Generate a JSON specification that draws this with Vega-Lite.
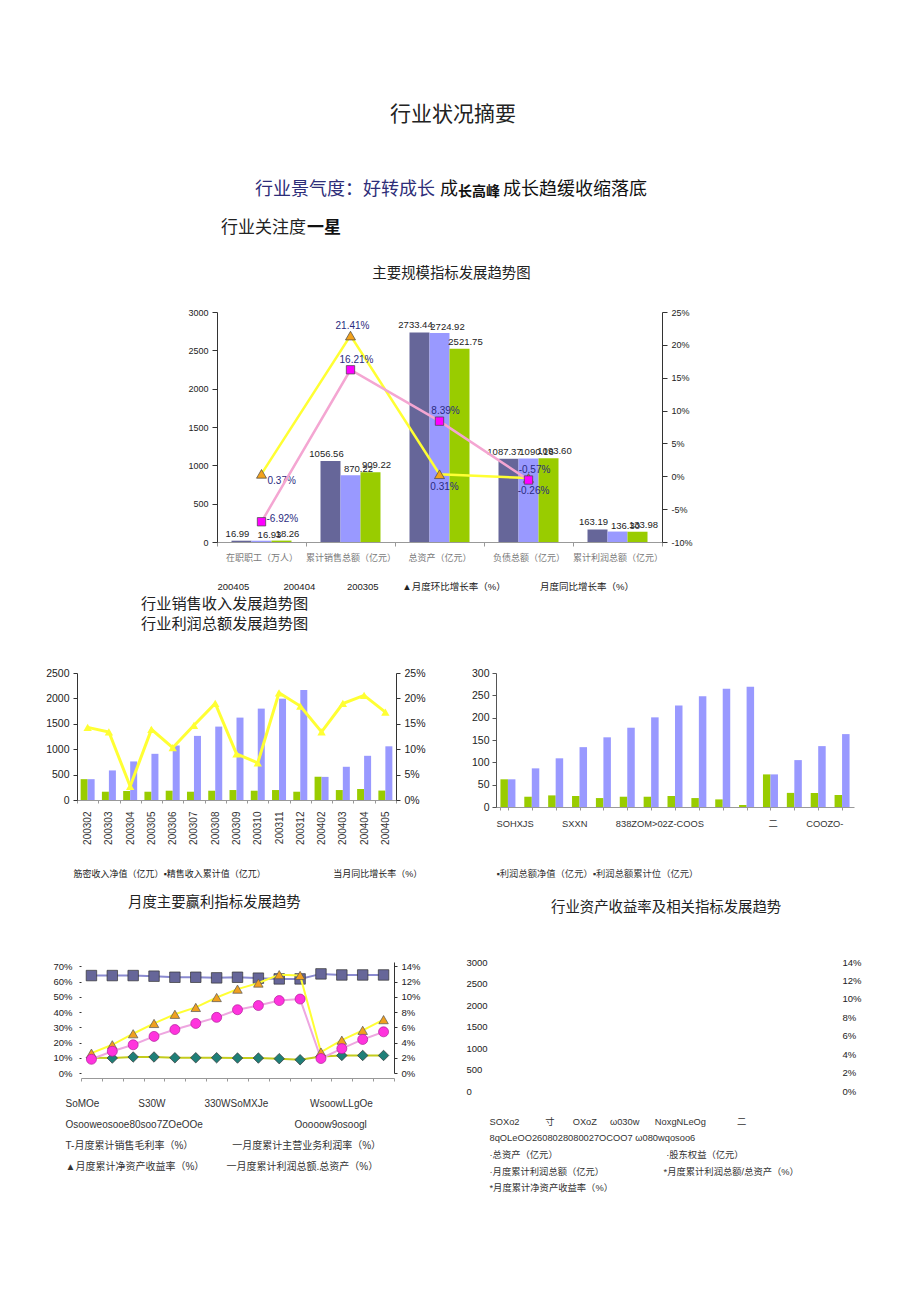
{
  "$schema": "https://vega.github.io/schema/vega-lite/v6.json",
  "background": "white",
  "padding": {"left": 0, "top": 104, "right": 0, "bottom": 0},
  "config": {
    "view": {"stroke": null},
    "font": "Noto Sans CJK SC",
    "axis": {"grid": false, "labelFont": "Liberation Sans", "labelColor": "#222", "domainColor": "#333", "tickColor": "#333"},
    "title": {"font": "Noto Sans CJK SC", "fontWeight": "normal", "color": "#222"},
    "locale": {"number": {"decimal": ".", "thousands": ",", "grouping": [3], "currency": ["", ""], "minus": "-"}}
  },
  "datasets": {
    "c1b": [
      {"cat": "在职职工（万人）", "200405": 16.99, "200404": 16.93, "200305": 18.26},
      {"cat": "累计销售总额（亿元）", "200405": 1056.56, "200404": 870.22, "200305": 909.22},
      {"cat": "总资产（亿元）", "200405": 2733.44, "200404": 2724.92, "200305": 2521.75},
      {"cat": "负债总额（亿元）", "200405": 1087.37, "200404": 1090.16, "200305": 1093.60},
      {"cat": "累计利润总额（亿元）", "200405": 163.19, "200404": 136.30, "200305": 133.98}
    ],
    "c1r": [
      {"cat": "在职职工（万人）", "月度环比增长率（%）": 0.0037, "月度同比增长率（%）": -0.0692},
      {"cat": "累计销售总额（亿元）", "月度环比增长率（%）": 0.2141, "月度同比增长率（%）": 0.1621},
      {"cat": "总资产（亿元）", "月度环比增长率（%）": 0.0031, "月度同比增长率（%）": 0.0839},
      {"cat": "负债总额（亿元）", "月度环比增长率（%）": -0.0026, "月度同比增长率（%）": -0.0057}
    ],
    "c2": [
      {"month": "200302", "筋密收入净值（亿兀）": 410, "精售收入累计值（亿兀）": 410, "yoy": 0.143},
      {"month": "200303", "筋密收入净值（亿兀）": 163, "精售收入累计值（亿兀）": 582, "yoy": 0.134},
      {"month": "200304", "筋密收入净值（亿兀）": 177, "精售收入累计值（亿兀）": 759, "yoy": 0.027},
      {"month": "200305", "筋密收入净值（亿兀）": 163, "精售收入累计值（亿兀）": 909, "yoy": 0.139},
      {"month": "200306", "筋密收入净值（亿兀）": 183, "精售收入累计值（亿兀）": 1073, "yoy": 0.103},
      {"month": "200307", "筋密收入净值（亿兀）": 163, "精售收入累计值（亿兀）": 1262, "yoy": 0.147},
      {"month": "200308", "筋密收入净值（亿兀）": 183, "精售收入累计值（亿兀）": 1445, "yoy": 0.190},
      {"month": "200309", "筋密收入净值（亿兀）": 196, "精售收入累计值（亿兀）": 1622, "yoy": 0.091},
      {"month": "200310", "筋密收入净值（亿兀）": 183, "精售收入累计值（亿兀）": 1799, "yoy": 0.073},
      {"month": "200311", "筋密收入净值（亿兀）": 196, "精售收入累计值（亿兀）": 1995, "yoy": 0.211},
      {"month": "200312", "筋密收入净值（亿兀）": 163, "精售收入累计值（亿兀）": 2165, "yoy": 0.185},
      {"month": "200402", "筋密收入净值（亿兀）": 458, "精售收入累计值（亿兀）": 455, "yoy": 0.134},
      {"month": "200403", "筋密收入净值（亿兀）": 196, "精售收入累计值（亿兀）": 654, "yoy": 0.190},
      {"month": "200404", "筋密收入净值（亿兀）": 216, "精售收入累计值（亿兀）": 870, "yoy": 0.206},
      {"month": "200405", "筋密收入净值（亿兀）": 186, "精售收入累计值（亿兀）": 1057, "yoy": 0.173}
    ],
    "c3": [
      {"month": "200302", "利润总额净值（亿元）": 62, "利润总额累计位（亿元）": 62},
      {"month": "200303", "利润总额净值（亿元）": 23, "利润总额累计位（亿元）": 86.5},
      {"month": "200304", "利润总额净值（亿元）": 26, "利润总额累计位（亿元）": 109},
      {"month": "200305", "利润总额净值（亿元）": 24.6, "利润总额累计位（亿元）": 134},
      {"month": "200306", "利润总额净值（亿元）": 20, "利润总额累计位（亿元）": 156},
      {"month": "200307", "利润总额净值（亿元）": 23, "利润总额累计位（亿元）": 177.5},
      {"month": "200308", "利润总额净值（亿元）": 23, "利润总额累计位（亿元）": 200.7},
      {"month": "200309", "利润总额净值（亿元）": 24.6, "利润总额累计位（亿元）": 227.5},
      {"month": "200310", "利润总额净值（亿元）": 20, "利润总额累计位（亿元）": 247.7},
      {"month": "200311", "利润总额净值（亿元）": 17, "利润总额累计位（亿元）": 264.8},
      {"month": "200312", "利润总额净值（亿元）": 4.5, "利润总额累计位（亿元）": 269.3},
      {"month": "200402", "利润总额净值（亿元）": 73, "利润总额累计位（亿元）": 73},
      {"month": "200403", "利润总额净值（亿元）": 31.6, "利润总额累计位（亿元）": 105},
      {"month": "200404", "利润总额净值（亿元）": 31.3, "利润总额累计位（亿元）": 136.3},
      {"month": "200405", "利润总额净值（亿元）": 26.9, "利润总额累计位（亿元）": 163.2}
    ],
    "c4": [
      {"month": "200302", "销售毛利率": 0.639, "主营业务利润率": 0.100, "净资产收益率": 0.026, "利润总额总资产": 0.018},
      {"month": "200303", "销售毛利率": 0.639, "主营业务利润率": 0.098, "净资产收益率": 0.037, "利润总额总资产": 0.0285},
      {"month": "200304", "销售毛利率": 0.639, "主营业务利润率": 0.105, "净资产收益率": 0.0515, "利润总额总资产": 0.037},
      {"month": "200305", "销售毛利率": 0.635, "主营业务利润率": 0.105, "净资产收益率": 0.065, "利润总额总资产": 0.048},
      {"month": "200306", "销售毛利率": 0.628, "主营业务利润率": 0.100, "净资产收益率": 0.077, "利润总额总资产": 0.057},
      {"month": "200307", "销售毛利率": 0.628, "主营业务利润率": 0.100, "净资产收益率": 0.086, "利润总额总资产": 0.065},
      {"month": "200308", "销售毛利率": 0.624, "主营业务利润率": 0.100, "净资产收益率": 0.099, "利润总额总资产": 0.073},
      {"month": "200309", "销售毛利率": 0.628, "主营业务利润率": 0.098, "净资产收益率": 0.110, "利润总额总资产": 0.083},
      {"month": "200310", "销售毛利率": 0.622, "主营业务利润率": 0.098, "净资产收益率": 0.118, "利润总额总资产": 0.0885},
      {"month": "200311", "销售毛利率": 0.617, "主营业务利润率": 0.094, "净资产收益率": 0.129, "利润总额总资产": 0.095},
      {"month": "200312", "销售毛利率": 0.617, "主营业务利润率": 0.087, "净资产收益率": 0.128, "利润总额总资产": 0.097},
      {"month": "200402", "销售毛利率": 0.650, "主营业务利润率": 0.108, "净资产收益率": 0.0275, "利润总额总资产": 0.019},
      {"month": "200403", "销售毛利率": 0.643, "主营业务利润率": 0.115, "净资产收益率": 0.043, "利润总额总资产": 0.032},
      {"month": "200404", "销售毛利率": 0.643, "主营业务利润率": 0.115, "净资产收益率": 0.056, "利润总额总资产": 0.044},
      {"month": "200405", "销售毛利率": 0.643, "主营业务利润率": 0.115, "净资产收益率": 0.070, "利润总额总资产": 0.054}
    ],
    "c5": [
      {"series": "总资产（亿元）", "amount": null, "pct": null},
      {"series": "股东权益（亿元）", "amount": null, "pct": null},
      {"series": "月度累计利润总额（亿元）", "amount": null, "pct": null},
      {"series": "月度累计利润总额/总资产（%）", "amount": null, "pct": null},
      {"series": "月度累计净资产收益率（%）", "amount": null, "pct": null}
    ]
  },
  "spacing": 0,
  "vconcat": [
    {
      "width": 906, "height": 1, "data": {"values": []}, "mark": "point",
      "title": {"text": "行业状况摘要", "anchor": "middle", "frame": "group", "fontSize": 21, "fontWeight": "normal", "color": "#222", "offset": 55}
    },
    {
      "spacing": 0,
      "hconcat": [
        {"width": 255, "height": 1, "data": {"values": []}, "mark": "point"},
        {"width": 185, "height": 1, "data": {"values": []}, "mark": "point",
         "title": {"text": "行业景气度：好转成长", "anchor": "start", "frame": "group", "fontSize": 18, "fontWeight": "normal", "color": "#2d2d78", "offset": 19}},
        {"width": 17, "height": 1, "data": {"values": []}, "mark": "point",
         "title": {"text": "成", "anchor": "start", "frame": "group", "fontSize": 18, "fontWeight": "normal", "color": "#111", "offset": 19}},
        {"width": 45, "height": 1, "data": {"values": []}, "mark": "point",
         "title": {"text": "长高峰", "anchor": "start", "frame": "group", "fontSize": 14, "fontWeight": "bold", "color": "#111", "offset": 19}},
        {"width": 150, "height": 1, "data": {"values": []}, "mark": "point",
         "title": {"text": "成长趋缓收缩落底", "anchor": "start", "frame": "group", "fontSize": 18, "fontWeight": "normal", "color": "#111", "offset": 19}}
      ]
    },
    {
      "spacing": 0,
      "hconcat": [
        {"width": 221, "height": 1, "data": {"values": []}, "mark": "point"},
        {"width": 86, "height": 1, "data": {"values": []}, "mark": "point",
         "title": {"text": "行业关注度", "anchor": "start", "frame": "group", "fontSize": 17, "fontWeight": "normal", "color": "#222", "offset": 27}},
        {"width": 40, "height": 1, "data": {"values": []}, "mark": "point",
         "title": {"text": "一星", "anchor": "start", "frame": "group", "fontSize": 17, "fontWeight": "bold", "color": "#111", "offset": 27}}
      ]
    },
    {
      "spacing": 0,
      "hconcat": [
        {"width": 187, "height": 1, "data": {"values": []}, "mark": "point"},
        {
          "width": 445, "height": 230,
          "title": {"text": "主要规模指标发展趋势图", "anchor": "middle", "frame": "group", "dx": 12, "offset": 27, "fontSize": 14.4, "fontWeight": "normal", "color": "#222"},
          "layer": [
            {
              "data": {"name": "c1b"},
              "encoding": {
                "x": {"field": "cat", "type": "nominal", "title": null,
                      "scale": {"type": "band", "domain": ["在职职工（万人）", "累计销售总额（亿元）", "总资产（亿元）", "负债总额（亿元）", "累计利润总额（亿元）"], "paddingInner": 0.7753, "paddingOuter": 0.3876, "align": 0.2101},
                      "axis": null},
                "y": {"field": "200405", "type": "quantitative", "title": null, "scale": {"domain": [0, 3000]},
                      "axis": {"values": [0, 500, 1000, 1500, 2000, 2500, 3000], "format": "d", "labelFontSize": 9, "tickSize": 5, "labelPadding": 4}}
              },
              "layer": [
                {"mark": {"type": "bar", "color": "#666699"}},
                {"mark": {"type": "text", "baseline": "bottom", "dy": -2, "dx": -4, "fontSize": 9.5, "font": "Liberation Sans", "color": "#222"},
                 "encoding": {"text": {"field": "200405", "type": "quantitative", "format": ".2f"}}}
              ]
            },
            {
              "data": {"name": "c1b"},
              "encoding": {
                "x": {"field": "cat", "type": "nominal", "title": null,
                      "scale": {"type": "band", "domain": ["在职职工（万人）", "累计销售总额（亿元）", "总资产（亿元）", "负债总额（亿元）", "累计利润总额（亿元）"], "paddingInner": 0.7753, "paddingOuter": 0.3876, "align": 0.5},
                      "axis": null},
                "y": {"field": "200404", "type": "quantitative", "title": null, "scale": {"domain": [0, 3000]}, "axis": null}
              },
              "layer": [
                {"mark": {"type": "bar", "color": "#9999ff"}},
                {"mark": {"type": "text", "baseline": "bottom", "dy": -1, "dx": 8, "fontSize": 9.5, "font": "Liberation Sans", "color": "#222"},
                 "encoding": {"text": {"field": "200404", "type": "quantitative", "format": ".2f"}}}
              ]
            },
            {
              "data": {"name": "c1b"},
              "encoding": {
                "x": {"field": "cat", "type": "nominal", "title": null,
                      "scale": {"type": "band", "domain": ["在职职工（万人）", "累计销售总额（亿元）", "总资产（亿元）", "负债总额（亿元）", "累计利润总额（亿元）"], "paddingInner": 0.7753, "paddingOuter": 0.3876, "align": 0.7899},
                      "axis": null},
                "y": {"field": "200305", "type": "quantitative", "title": null, "scale": {"domain": [0, 3000]}, "axis": null}
              },
              "layer": [
                {"mark": {"type": "bar", "color": "#99cc00"}},
                {"mark": {"type": "text", "baseline": "bottom", "dy": -2, "dx": 6, "fontSize": 9.5, "font": "Liberation Sans", "color": "#222"},
                 "encoding": {"text": {"field": "200305", "type": "quantitative", "format": ".2f"}}}
              ]
            },
            {
              "data": {"name": "c1r"},
              "encoding": {
                "x": {"field": "cat", "type": "nominal",
                      "title": "\u00a0\u00a0\u00a0\u00a0\u00a0\u00a0\u00a0\u00a0\u00a0\u00a0\u00a0\u00a0\u00a0\u00a0\u00a0200405\u00a0\u00a0\u00a0\u00a0\u00a0\u00a0\u00a0\u00a0\u00a0\u00a0\u00a0\u00a0\u00a0200404\u00a0\u00a0\u00a0\u00a0\u00a0\u00a0\u00a0\u00a0\u00a0\u00a0\u00a0\u00a0200305\u00a0\u00a0\u00a0\u00a0\u00a0\u00a0\u00a0\u00a0\u00a0▲月度环比增长率（%）\u00a0\u00a0\u00a0\u00a0\u00a0\u00a0\u00a0\u00a0\u00a0\u00a0\u00a0\u00a0\u00a0月度同比增长率（%）",
                      "sort": ["在职职工（万人）", "累计销售总额（亿元）", "总资产（亿元）", "负债总额（亿元）", "累计利润总额（亿元）"],
                      "scale": {"type": "band", "domain": ["在职职工（万人）", "累计销售总额（亿元）", "总资产（亿元）", "负债总额（亿元）", "累计利润总额（亿元）"], "paddingInner": 0, "paddingOuter": 0},
                      "axis": {"labelAngle": 0, "labelFont": "Noto Sans CJK SC", "labelFontSize": 9, "labelColor": "#7a7a7a", "domainColor": "#999", "tickColor": "#999", "tickSize": 4, "tickBand": "extent", "labelPadding": 7,
                               "titleAnchor": "start", "titleAlign": "left", "titleFont": "Liberation Sans, Noto Sans CJK SC", "titleFontSize": 9.5, "titleFontWeight": "normal", "titleColor": "#222", "titlePadding": 19}}
              },
              "layer": [
                {
                  "encoding": {"y": {"field": "月度环比增长率（%）", "type": "quantitative", "title": null, "scale": {"domain": [-0.1, 0.25]},
                    "axis": {"orient": "right", "values": [-0.1, -0.05, 0, 0.05, 0.1, 0.15, 0.2, 0.25], "format": ".0%", "labelFontSize": 9, "tickSize": 5, "labelPadding": 4}}},
                  "layer": [
                    {"mark": {"type": "line", "strokeWidth": 2.5, "color": "#ffff33"}},
                    {"mark": {"type": "point", "shape": "triangle-up", "filled": true, "color": "#f2a21c", "stroke": "#444", "strokeWidth": 0.7, "size": 100, "opacity": 1}},
                    {"transform": [{"filter": "datum.cat === '累计销售总额（亿元）'"}],
                     "mark": {"type": "text", "baseline": "bottom", "dy": -5, "dx": 2, "fontSize": 10, "font": "Liberation Sans", "color": "#2b2b80"},
                     "encoding": {"text": {"field": "月度环比增长率（%）", "type": "quantitative", "format": ".2%"}}},
                    {"transform": [{"filter": "datum.cat === '总资产（亿元）' || datum.cat === '负债总额（亿元）'"}],
                     "mark": {"type": "text", "baseline": "top", "dy": 8, "dx": 5, "fontSize": 10, "font": "Liberation Sans", "color": "#2b2b80"},
                     "encoding": {"text": {"field": "月度环比增长率（%）", "type": "quantitative", "format": ".2%"}}},
                    {"transform": [{"filter": "datum.cat === '在职职工（万人）'"}],
                     "mark": {"type": "text", "align": "left", "baseline": "middle", "dx": 6, "dy": 7, "fontSize": 10, "font": "Liberation Sans", "color": "#2b2b80"},
                     "encoding": {"text": {"field": "月度环比增长率（%）", "type": "quantitative", "format": ".2%"}}}
                  ]
                },
                {
                  "encoding": {"y": {"field": "月度同比增长率（%）", "type": "quantitative", "title": null, "scale": {"domain": [-0.1, 0.25]},
                    "axis": {"orient": "right", "values": [-0.1, -0.05, 0, 0.05, 0.1, 0.15, 0.2, 0.25], "format": ".0%", "labelFontSize": 9, "tickSize": 5, "labelPadding": 4}}},
                  "layer": [
                    {"mark": {"type": "line", "strokeWidth": 2.5, "color": "#f4a6d2"}},
                    {"mark": {"type": "point", "shape": "square", "filled": true, "color": "#ff00ff", "stroke": "#444", "strokeWidth": 0.7, "size": 70, "opacity": 1}},
                    {"transform": [{"filter": "datum.cat !== '在职职工（万人）'"}],
                     "mark": {"type": "text", "baseline": "bottom", "dy": -5, "dx": 6, "fontSize": 10, "font": "Liberation Sans", "color": "#2b2b80"},
                     "encoding": {"text": {"field": "月度同比增长率（%）", "type": "quantitative", "format": ".2%"}}},
                    {"transform": [{"filter": "datum.cat === '在职职工（万人）'"}],
                     "mark": {"type": "text", "align": "left", "baseline": "middle", "dx": 5, "dy": -3, "fontSize": 10, "font": "Liberation Sans", "color": "#2b2b80"},
                     "encoding": {"text": {"field": "月度同比增长率（%）", "type": "quantitative", "format": ".2%"}}}
                  ]
                }
              ]
            }
          ],
          "resolve": {"scale": {"x": "independent", "y": "independent"}}
        }
      ]
    },
    {"width": 1, "height": 5, "data": {"values": []}, "mark": "point"},
    {
      "spacing": 0,
      "hconcat": [
        {"width": 45, "height": 1, "data": {"values": []}, "mark": "point"},
        {
          "width": 319, "height": 127,
          "title": {"text": ["行业销售收入发展趋势图", "行业利润总额发展趋势图"], "anchor": "start", "frame": "group", "dx": 64, "offset": 36, "fontSize": 15.2, "lineHeight": 20, "fontWeight": "normal", "color": "#222"},
          "data": {"name": "c2"},
          "layer": [
            {
              "mark": {"type": "bar", "color": "#99cc00"},
              "encoding": {
                "x": {"field": "month", "type": "ordinal", "title": null, "scale": {"type": "band", "paddingInner": 0.6709, "paddingOuter": 0.33545, "align": 0.2547}, "axis": null},
                "y": {"field": "筋密收入净值（亿兀）", "type": "quantitative", "title": null, "scale": {"domain": [0, 2500]},
                      "axis": {"values": [0, 500, 1000, 1500, 2000, 2500], "format": "d", "labelFontSize": 10.5, "tickSize": 4, "labelPadding": 4}}
              }
            },
            {
              "mark": {"type": "bar", "color": "#9999ff"},
              "encoding": {
                "x": {"field": "month", "type": "ordinal", "title": null, "scale": {"type": "band", "paddingInner": 0.6709, "paddingOuter": 0.33545, "align": 0.7453}, "axis": null},
                "y": {"field": "精售收入累计值（亿兀）", "type": "quantitative", "title": null, "scale": {"domain": [0, 2500]}, "axis": null}
              }
            },
            {
              "encoding": {
                "x": {"field": "month", "type": "ordinal",
                      "title": "筋密收入净值（亿兀）▪精售收入累计值（亿兀）\u00a0\u00a0\u00a0\u00a0\u00a0\u00a0\u00a0\u00a0\u00a0\u00a0\u00a0\u00a0\u00a0\u00a0\u00a0\u00a0\u00a0\u00a0\u00a0\u00a0\u00a0\u00a0\u00a0\u00a0\u00a0\u00a0\u00a0当月同比增长率（%）",
                      "scale": {"type": "band", "paddingInner": 0, "paddingOuter": 0},
                      "axis": {"labelAngle": 270, "labelFontSize": 10, "labelColor": "#333", "domainColor": "#999", "tickColor": "#999", "tickSize": 3, "tickBand": "extent", "labelPadding": 8,
                               "titleAnchor": "start", "titleAlign": "left", "titleX": -4, "titleFont": "Liberation Sans, Noto Sans CJK SC", "titleFontSize": 9, "titleFontWeight": "normal", "titleColor": "#222", "titlePadding": 25}},
                "y": {"field": "yoy", "type": "quantitative", "title": null, "scale": {"domain": [0, 0.25]},
                      "axis": {"orient": "right", "values": [0, 0.05, 0.1, 0.15, 0.2, 0.25], "format": ".0%", "labelFontSize": 10.5, "tickSize": 4, "labelPadding": 4}}
              },
              "layer": [
                {"mark": {"type": "line", "strokeWidth": 3, "color": "#ffff33"}},
                {"mark": {"type": "point", "shape": "triangle-up", "filled": true, "color": "#ffff33", "size": 70, "opacity": 1}}
              ]
            }
          ],
          "resolve": {"scale": {"x": "independent", "y": "independent"}}
        },
        {"width": 45, "height": 1, "data": {"values": []}, "mark": "point"},
        {
          "width": 358, "height": 134,
          "data": {"name": "c3"},
          "layer": [
            {
              "mark": {"type": "bar", "color": "#99cc00"},
              "encoding": {
                "x": {"field": "month", "type": "ordinal",
                      "title": ["\u00a0\u00a0SOHXJS\u00a0\u00a0\u00a0\u00a0\u00a0\u00a0\u00a0\u00a0\u00a0\u00a0\u00a0SXXN\u00a0\u00a0\u00a0\u00a0\u00a0\u00a0\u00a0\u00a0\u00a0\u00a0\u00a0838ZOM>02Z-COOS\u00a0\u00a0\u00a0\u00a0\u00a0\u00a0\u00a0\u00a0\u00a0\u00a0\u00a0\u00a0\u00a0\u00a0\u00a0\u00a0\u00a0\u00a0\u00a0\u00a0\u00a0\u00a0\u00a0\u00a0\u00a0二\u00a0\u00a0\u00a0\u00a0\u00a0\u00a0\u00a0\u00a0\u00a0\u00a0\u00a0COOZO-", "\u00a0\u00a0\u00a0\u00a0\u00a0\u00a0\u00a0\u00a0\u00a0\u00a0\u00a0\u00a0\u00a0\u00a0\u00a0\u00a0\u00a0\u00a0\u00a0\u00a0\u00a0\u00a0\u00a0\u00a0\u00a0\u00a0▪利润总额净值（亿元）▪利润总额累计位（亿元）"],
                      "scale": {"type": "band", "paddingInner": 0.68575, "paddingOuter": 0.342875, "align": 0.2709},
                      "axis": {"labels": false, "domainColor": "#999", "tickColor": "#999", "tickSize": 3, "tickBand": "extent",
                               "titleAnchor": "start", "titleAlign": "left", "titleFont": "Liberation Sans, Noto Sans CJK SC", "titleFontSize": 9.3, "titleFontWeight": "normal", "titleColor": "#333", "titlePadding": 9, "titleLineHeight": 50}},
                "y": {"field": "利润总额净值（亿元）", "type": "quantitative", "title": null, "scale": {"domain": [0, 300]},
                      "axis": {"values": [0, 50, 100, 150, 200, 250, 300], "format": "d", "labelFontSize": 10.5, "tickSize": 4, "labelPadding": 3, "domainColor": "#555", "tickColor": "#555"}}
              }
            },
            {
              "mark": {"type": "bar", "color": "#9999ff"},
              "encoding": {
                "x": {"field": "month", "type": "ordinal", "title": null, "scale": {"type": "band", "paddingInner": 0.68575, "paddingOuter": 0.342875, "align": 0.7291}, "axis": null},
                "y": {"field": "利润总额累计位（亿元）", "type": "quantitative", "title": null, "scale": {"domain": [0, 300]}, "axis": null}
              }
            }
          ],
          "resolve": {"scale": {"x": "independent", "y": "independent"}}
        }
      ]
    },
    {"width": 1, "height": 15, "data": {"values": []}, "mark": "point"},
    {
      "spacing": 0,
      "hconcat": [
        {"width": 52, "height": 1, "data": {"values": []}, "mark": "point"},
        {
          "width": 313, "height": 111,
          "title": {"text": "月度主要赢利指标发展趋势", "anchor": "start", "frame": "group", "dx": 47, "offset": 51, "fontSize": 14.4, "fontWeight": "normal", "color": "#222"},
          "data": {"name": "c4"},
          "encoding": {
            "x": {"field": "month", "type": "ordinal",
                  "title": ["\u00a0\u00a0\u00a0\u00a0\u00a0\u00a0\u00a0SoMOe\u00a0\u00a0\u00a0\u00a0\u00a0\u00a0\u00a0\u00a0\u00a0\u00a0\u00a0\u00a0\u00a0\u00a0S30W\u00a0\u00a0\u00a0\u00a0\u00a0\u00a0\u00a0\u00a0\u00a0\u00a0\u00a0\u00a0\u00a0\u00a0330WSoMXJe\u00a0\u00a0\u00a0\u00a0\u00a0\u00a0\u00a0\u00a0\u00a0\u00a0\u00a0\u00a0\u00a0\u00a0\u00a0WsoowLLgOe", "\u00a0\u00a0\u00a0\u00a0\u00a0\u00a0\u00a0Osooweosooe80soo7ZOeOOe\u00a0\u00a0\u00a0\u00a0\u00a0\u00a0\u00a0\u00a0\u00a0\u00a0\u00a0\u00a0\u00a0\u00a0\u00a0\u00a0\u00a0\u00a0\u00a0\u00a0\u00a0\u00a0\u00a0\u00a0\u00a0\u00a0\u00a0\u00a0\u00a0\u00a0\u00a0\u00a0\u00a0Ooooow9osoogl", "T-月度累计销售毛利率（%）\u00a0\u00a0\u00a0\u00a0\u00a0\u00a0\u00a0\u00a0\u00a0\u00a0\u00a0\u00a0\u00a0\u00a0一月度累计主营业务利润率（%）", "▲月度累计净资产收益率（%）\u00a0\u00a0\u00a0\u00a0\u00a0\u00a0\u00a0\u00a0一月度累计利润总额.总资产（%）"],
                  "scale": {"type": "band", "paddingInner": 0, "paddingOuter": 0},
                  "axis": {"labels": false, "offset": 5, "domainColor": "#999", "tickColor": "#999", "tickSize": 3, "tickBand": "extent",
                           "titleAnchor": "start", "titleAlign": "left", "titleX": -16, "titleFont": "Liberation Sans, Noto Sans CJK SC", "titleFontSize": 10, "titleFontWeight": "normal", "titleColor": "#333", "titlePadding": 17, "titleLineHeight": 21}}
          },
          "layer": [
            {
              "encoding": {"y": {"field": "销售毛利率", "type": "quantitative", "title": null, "scale": {"domain": [0, 0.728]},
                "axis": {"values": [0, 0.1, 0.2, 0.3, 0.4, 0.5, 0.6, 0.7], "format": ".0%", "domain": false, "tickSize": 2, "labelPadding": 7, "labelFontSize": 9.5}}},
              "layer": [
                {"mark": {"type": "line", "strokeWidth": 2, "color": "#8a8ad0"}},
                {"mark": {"type": "line", "strokeWidth": 2, "color": "#c4cc1c"},
                 "encoding": {"y": {"field": "主营业务利润率", "type": "quantitative", "title": null, "scale": {"domain": [0, 0.728]},
                   "axis": {"values": [0, 0.1, 0.2, 0.3, 0.4, 0.5, 0.6, 0.7], "format": ".0%", "domain": false, "tickSize": 2, "labelPadding": 7, "labelFontSize": 9.5}}}},
                {"mark": {"type": "point", "shape": "square", "filled": true, "color": "#666699", "stroke": "#333", "strokeWidth": 0.7, "size": 110, "opacity": 1}},
                {"mark": {"type": "point", "shape": "diamond", "filled": true, "color": "#1f7f78", "stroke": "#333", "strokeWidth": 0.7, "size": 110, "opacity": 1},
                 "encoding": {"y": {"field": "主营业务利润率", "type": "quantitative", "title": null, "scale": {"domain": [0, 0.728]},
                   "axis": {"values": [0, 0.1, 0.2, 0.3, 0.4, 0.5, 0.6, 0.7], "format": ".0%", "domain": false, "tickSize": 2, "labelPadding": 7, "labelFontSize": 9.5}}}}
              ]
            },
            {
              "encoding": {"y": {"field": "净资产收益率", "type": "quantitative", "title": null, "scale": {"domain": [0, 0.1456]},
                "axis": {"orient": "right", "values": [0, 0.02, 0.04, 0.06, 0.08, 0.1, 0.12, 0.14], "format": ".0%", "tickSize": 3, "labelPadding": 4, "labelFontSize": 9.5}}},
              "layer": [
                {"mark": {"type": "line", "strokeWidth": 2, "color": "#ffff33"}},
                {"mark": {"type": "line", "strokeWidth": 2, "color": "#eea6e0"},
                 "encoding": {"y": {"field": "利润总额总资产", "type": "quantitative", "title": null, "scale": {"domain": [0, 0.1456]},
                   "axis": {"orient": "right", "values": [0, 0.02, 0.04, 0.06, 0.08, 0.1, 0.12, 0.14], "format": ".0%", "tickSize": 3, "labelPadding": 4, "labelFontSize": 9.5}}}},
                {"mark": {"type": "point", "shape": "triangle-up", "filled": true, "color": "#f0a020", "stroke": "#555", "strokeWidth": 0.7, "size": 90, "opacity": 1}},
                {"mark": {"type": "point", "shape": "circle", "filled": true, "color": "#ff33dd", "stroke": "#b01c9a", "strokeWidth": 0.7, "size": 100, "opacity": 1},
                 "encoding": {"y": {"field": "利润总额总资产", "type": "quantitative", "title": null, "scale": {"domain": [0, 0.1456]},
                   "axis": {"orient": "right", "values": [0, 0.02, 0.04, 0.06, 0.08, 0.1, 0.12, 0.14], "format": ".0%", "tickSize": 3, "labelPadding": 4, "labelFontSize": 9.5}}}}
              ]
            }
          ],
          "resolve": {"scale": {"y": "independent"}}
        },
        {"width": 45, "height": 1, "data": {"values": []}, "mark": "point"},
        {
          "width": 350, "height": 129,
          "title": {"text": "行业资产收益率及相关指标发展趋势", "anchor": "start", "frame": "group", "dx": 62, "offset": 42, "fontSize": 14.4, "fontWeight": "normal", "color": "#222"},
          "data": {"name": "c5"},
          "encoding": {
            "x": {"field": "month", "type": "ordinal",
                  "title": ["\u00a0\u00a0\u00a0\u00a0\u00a0\u00a0\u00a0\u00a0\u00a0\u00a0\u00a0\u00a0\u00a0\u00a0\u00a0\u00a0\u00a0\u00a0\u00a0\u00a0\u00a0\u00a0\u00a0\u00a0\u00a0\u00a0\u00a0\u00a0\u00a0\u00a0\u00a0SOXo2\u00a0\u00a0\u00a0\u00a0\u00a0\u00a0\u00a0\u00a0\u00a0\u00a0寸\u00a0\u00a0\u00a0\u00a0\u00a0\u00a0\u00a0OXoZ\u00a0\u00a0\u00a0\u00a0\u00a0ω030w\u00a0\u00a0\u00a0\u00a0\u00a0\u00a0NoxgNLeOg\u00a0\u00a0\u00a0\u00a0\u00a0\u00a0\u00a0\u00a0\u00a0\u00a0\u00a0\u00a0二", "\u00a0\u00a0\u00a0\u00a0\u00a0\u00a0\u00a0\u00a0\u00a0\u00a0\u00a0\u00a0\u00a0\u00a0\u00a0\u00a0\u00a0\u00a0\u00a0\u00a0\u00a0\u00a0\u00a0\u00a0\u00a0\u00a0\u00a0\u00a0\u00a0\u00a0\u00a08qOLeOO2608028080027OCOO7\u00a0ω080wqosoo6", "\u00a0·总资产（亿元）\u00a0\u00a0\u00a0\u00a0\u00a0\u00a0\u00a0\u00a0\u00a0\u00a0\u00a0\u00a0\u00a0\u00a0\u00a0\u00a0\u00a0\u00a0\u00a0\u00a0\u00a0\u00a0\u00a0\u00a0\u00a0\u00a0\u00a0\u00a0\u00a0\u00a0\u00a0\u00a0\u00a0\u00a0\u00a0\u00a0\u00a0\u00a0\u00a0\u00a0\u00a0\u00a0·股东权益（亿元）", "\u00a0·月度累计利润总额（亿元）\u00a0\u00a0\u00a0\u00a0\u00a0\u00a0\u00a0\u00a0\u00a0\u00a0\u00a0\u00a0\u00a0\u00a0\u00a0\u00a0\u00a0\u00a0\u00a0\u00a0\u00a0\u00a0\u00a0*月度累计利润总额/总资产（%）", "*月度累计净资产收益率（%）"],
                  "scale": {"domain": ["200302", "200303", "200304", "200305", "200306", "200307", "200308", "200309", "200310", "200311", "200312", "200402", "200403", "200404", "200405"]},
                  "axis": {"labels": false, "ticks": false, "domain": false,
                           "titleAnchor": "start", "titleAlign": "left", "titleFont": "Liberation Sans, Noto Sans CJK SC", "titleFontSize": 9.3, "titleFontWeight": "normal", "titleColor": "#333", "titlePadding": 26, "titleLineHeight": 16.7}}
          },
          "layer": [
            {"mark": {"type": "bar", "color": "#9999ff"},
             "encoding": {
               "y": {"field": "amount", "type": "quantitative", "title": null, "scale": {"domain": [0, 3000]},
                     "axis": {"values": [0, 500, 1000, 1500, 2000, 2500, 3000], "format": "d", "domain": false, "ticks": false, "labelAlign": "left", "labelPadding": 23, "labelFontSize": 9.5}}
             }},
            {"mark": {"type": "line", "color": "#ff66cc"},
             "encoding": {
               "y": {"field": "pct", "type": "quantitative", "title": null, "scale": {"domain": [0, 0.14]},
                     "axis": {"orient": "right", "values": [0, 0.02, 0.04, 0.06, 0.08, 0.1, 0.12, 0.14], "format": ".0%", "domain": false, "ticks": false, "labelPadding": 3, "labelFontSize": 9.5}}
             }}
          ],
          "resolve": {"scale": {"y": "independent"}}
        }
      ]
    }
  ]
}
